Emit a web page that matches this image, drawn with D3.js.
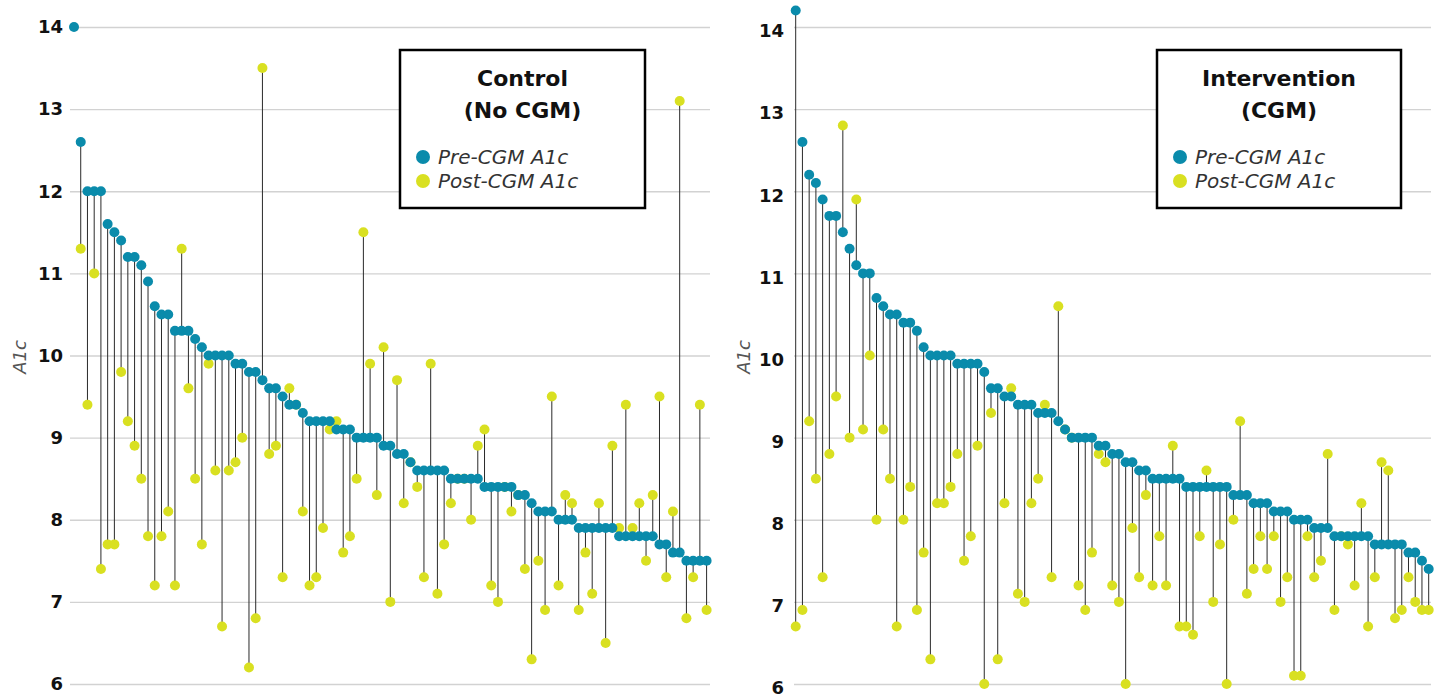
<!DOCTYPE html>
<html>
<head>
<meta charset="utf-8">
<script src="https://cdn.jsdelivr.net/npm/d3@7"></script>
<style>
  body { margin: 0; background: #fff; }
  svg { display: block; }
</style>
</head>
<body>
<div id="chart"></div>
<script>
// A1c per patient, sorted by pre-CGM value (null = no post reading)
var controlPre = [14.0, 12.6, 12.0, 12.0, 12.0, 11.6, 11.5, 11.4, 11.2, 11.2,
    11.1, 10.9, 10.6, 10.5, 10.5, 10.3, 10.3, 10.3, 10.2, 10.1,
    10.0, 10.0, 10.0, 10.0, 9.9, 9.9, 9.8, 9.8, 9.7, 9.6,
    9.6, 9.5, 9.4, 9.4, 9.3, 9.2, 9.2, 9.2, 9.2, 9.1,
    9.1, 9.1, 9.0, 9.0, 9.0, 9.0, 8.9, 8.9, 8.8, 8.8,
    8.7, 8.6, 8.6, 8.6, 8.6, 8.6, 8.5, 8.5, 8.5, 8.5,
    8.5, 8.4, 8.4, 8.4, 8.4, 8.4, 8.3, 8.3, 8.2, 8.1,
    8.1, 8.1, 8.0, 8.0, 8.0, 7.9, 7.9, 7.9, 7.9, 7.9,
    7.9, 7.8, 7.8, 7.8, 7.8, 7.8, 7.8, 7.7, 7.7, 7.6,
    7.6, 7.5, 7.5, 7.5, 7.5];
var controlPost = [null, 11.3, 9.4, 11.0, 7.4, 7.7, 7.7, 9.8, 9.2, 8.9,
    8.5, 7.8, 7.2, 7.8, 8.1, 7.2, 11.3, 9.6, 8.5, 7.7,
    9.9, 8.6, 6.7, 8.6, 8.7, 9.0, 6.2, 6.8, 13.5, 8.8,
    8.9, 7.3, 9.6, 9.4, 8.1, 7.2, 7.3, 7.9, 9.1, 9.2,
    7.6, 7.8, 8.5, 11.5, 9.9, 8.3, 10.1, 7.0, 9.7, 8.2,
    8.7, 8.4, 7.3, 9.9, 7.1, 7.7, 8.2, 8.5, 8.5, 8.0,
    8.9, 9.1, 7.2, 7.0, 8.4, 8.1, 8.3, 7.4, 6.3, 7.5,
    6.9, 9.5, 7.2, 8.3, 8.2, 6.9, 7.6, 7.1, 8.2, 6.5,
    8.9, 7.9, 9.4, 7.9, 8.2, 7.5, 8.3, 9.5, 7.3, 8.1,
    13.1, 6.8, 7.3, 9.4, 6.9];

var cgmPre = [14.2, 12.6, 12.2, 12.1, 11.9, 11.7, 11.7, 11.5, 11.3, 11.1,
    11.0, 11.0, 10.7, 10.6, 10.5, 10.5, 10.4, 10.4, 10.3, 10.1,
    10.0, 10.0, 10.0, 10.0, 9.9, 9.9, 9.9, 9.9, 9.8, 9.6,
    9.6, 9.5, 9.5, 9.4, 9.4, 9.4, 9.3, 9.3, 9.3, 9.2,
    9.1, 9.0, 9.0, 9.0, 9.0, 8.9, 8.9, 8.8, 8.8, 8.7,
    8.7, 8.6, 8.6, 8.5, 8.5, 8.5, 8.5, 8.5, 8.4, 8.4,
    8.4, 8.4, 8.4, 8.4, 8.4, 8.3, 8.3, 8.3, 8.2, 8.2,
    8.2, 8.1, 8.1, 8.1, 8.0, 8.0, 8.0, 7.9, 7.9, 7.9,
    7.8, 7.8, 7.8, 7.8, 7.8, 7.8, 7.7, 7.7, 7.7, 7.7,
    7.7, 7.6, 7.6, 7.5, 7.4];
var cgmPost = [6.7, 6.9, 9.2, 8.5, 7.3, 8.8, 9.5, 12.8, 9.0, 11.9,
    9.1, 10.0, 8.0, 9.1, 8.5, 6.7, 8.0, 8.4, 6.9, 7.6,
    6.3, 8.2, 8.2, 8.4, 8.8, 7.5, 7.8, 8.9, 6.0, 9.3,
    6.3, 8.2, 9.6, 7.1, 7.0, 8.2, 8.5, 9.4, 7.3, 10.6,
    9.1, 9.0, 7.2, 6.9, 7.6, 8.8, 8.7, 7.2, 7.0, 6.0,
    7.9, 7.3, 8.3, 7.2, 7.8, 7.2, 8.9, 6.7, 6.7, 6.6,
    7.8, 8.6, 7.0, 7.7, 6.0, 8.0, 9.2, 7.1, 7.4, 7.8,
    7.4, 7.8, 7.0, 7.3, 6.1, 6.1, 7.8, 7.3, 7.5, 8.8,
    6.9, 7.8, 7.7, 7.2, 8.2, 6.7, 7.3, 8.7, 8.6, 6.8,
    6.9, 7.3, 7.0, 6.9, 6.9];

var yTicks = [6, 7, 8, 9, 10, 11, 12, 13, 14];
var seriesNames = ["Pre-CGM A1c", "Post-CGM A1c"];
var controlTitle = ["Control", "(No CGM)"];
var cgmTitle = ["Intervention", "(CGM)"];
var axisTitle = "A1c";

var width = 1443, height = 698;
var blue = "#0a8bab", yellow = "#d9e021";
var font = "'DejaVu Sans', sans-serif";

var svg = d3.select("#chart").append("svg")
    .attr("width", width)
    .attr("height", height)
    .style("font-family", font);

var y = d3.scaleLinear().domain([6, 14]).range([684, 27]);

var panels = [
    {pre: controlPre, post: controlPost, title: controlTitle,
     left: 74, right: 706.6, gridLeft: 70, gridRight: 710,
     labelX: 63, labelDy: 0, axisTitleX: 20,
     legendX: 400, legendY: 50, legendW: 245, legendH: 158},
    {pre: cgmPre, post: cgmPost, title: cgmTitle,
     left: 795.7, right: 1428.7, gridLeft: 794, gridRight: 1431,
     labelX: 784, labelDy: 4, axisTitleX: 744,
     legendX: 1157, legendY: 50, legendW: 244, legendH: 158}
];

panels.forEach(function(p) {
    var g = svg.append("g");
    var idx = d3.range(p.pre.length);
    var x = d3.scalePoint().domain(idx).range([p.left, p.right]);

    // gridlines
    var grid = g.append("g")
        .attr("transform", "translate(" + p.gridLeft + ",0)")
        .call(d3.axisRight(y).tickValues(yTicks)
            .tickSize(p.gridRight - p.gridLeft).tickFormat(""));
    grid.select(".domain").remove();
    grid.selectAll("line").attr("stroke", "#d2d2d2").attr("stroke-width", 1.4);

    // tick labels
    var ax = g.append("g")
        .attr("transform", "translate(" + p.labelX + "," + p.labelDy + ")")
        .call(d3.axisLeft(y).tickValues(yTicks).tickSize(0).tickPadding(0));
    ax.select(".domain").remove();
    ax.selectAll("text")
        .attr("font-family", font)
        .attr("font-size", 18)
        .attr("font-weight", "bold")
        .attr("fill", "#111");

    g.append("text")
        .attr("transform", "translate(" + p.axisTitleX + ",357) rotate(-90)")
        .attr("text-anchor", "middle")
        .attr("dy", "0.35em")
        .attr("font-size", 18)
        .attr("font-style", "italic")
        .attr("fill", "#555")
        .text(axisTitle);

    // stems
    var rows = idx.map(function(i) { return {i: i, pre: p.pre[i], post: p.post[i]}; });
    g.selectAll(".stem").data(rows.filter(function(d) { return d.post != null; }))
        .enter().append("line")
        .attr("x1", function(d) { return x(d.i); })
        .attr("x2", function(d) { return x(d.i); })
        .attr("y1", function(d) { return y(d.pre); })
        .attr("y2", function(d) { return y(d.post); })
        .attr("stroke", "#2a2a2a")
        .attr("stroke-width", 1);

    g.selectAll(".post").data(rows.filter(function(d) { return d.post != null; }))
        .enter().append("circle")
        .attr("cx", function(d) { return x(d.i); })
        .attr("cy", function(d) { return y(d.post); })
        .attr("r", 5)
        .attr("fill", yellow);

    g.selectAll(".pre").data(rows)
        .enter().append("circle")
        .attr("cx", function(d) { return x(d.i); })
        .attr("cy", function(d) { return y(d.pre); })
        .attr("r", 5)
        .attr("fill", blue);

    // legend box
    var lg = g.append("g").attr("transform", "translate(" + p.legendX + "," + p.legendY + ")");
    lg.append("rect")
        .attr("width", p.legendW)
        .attr("height", p.legendH)
        .attr("fill", "#fff")
        .attr("stroke", "#000")
        .attr("stroke-width", 2.5);
    lg.selectAll(".ttl").data(p.title)
        .enter().append("text")
        .attr("x", p.legendW / 2)
        .attr("y", function(d, i) { return 36 + i * 32; })
        .attr("text-anchor", "middle")
        .attr("font-size", 22)
        .attr("font-weight", "bold")
        .attr("fill", "#111")
        .text(function(d) { return d; });
    var items = lg.selectAll(".item").data(seriesNames)
        .enter().append("g")
        .attr("transform", function(d, i) { return "translate(23," + (107 + i * 24) + ")"; });
    items.append("circle")
        .attr("r", 7)
        .attr("fill", function(d, i) { return i === 0 ? blue : yellow; });
    items.append("text")
        .attr("x", 15)
        .attr("dy", "0.35em")
        .attr("font-size", 20)
        .attr("font-style", "italic")
        .attr("fill", "#333")
        .text(function(d) { return d; });
});
</script>
</body>
</html>
